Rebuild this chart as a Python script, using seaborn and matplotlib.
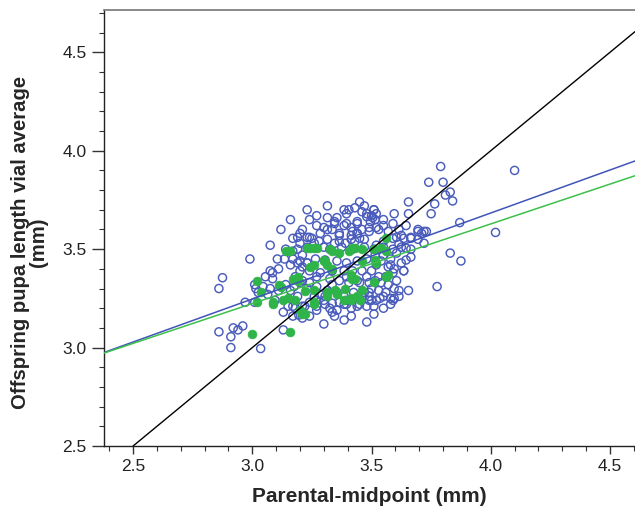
import numpy as np
import pandas as pd
import seaborn as sns
import matplotlib.pyplot as plt
from matplotlib.ticker import MultipleLocator

# open blue circles (all vials)
blue_x = [3.23, 3.12, 3.075, 3.23, 3.17,
          3.45, 3.655, 3.385, 3.48, 3.51, 3.52, 3.505, 3.495, 3.55, 3.595, 3.655, 3.345, 3.395, 3.44, 3.42,
          3.44, 3.46, 3.49, 3.53, 3.57, 3.615, 3.695, 3.25, 3.365, 3.365, 3.415, 3.45, 3.59, 3.665, 3.30,
          3.325, 3.375, 3.42, 3.47, 3.51, 3.55, 3.59, 3.625, 3.665,
          3.79, 4.10, 3.74, 3.80, 3.83, 3.81, 3.84, 3.765, 3.75, 3.87, 3.73, 3.71, 4.02, 3.72, 3.83,
          3.875, 3.775,
          3.695, 3.72, 3.635, 3.665, 3.695, 3.615, 3.645, 3.665, 3.645, 3.635, 3.595, 3.59, 3.56, 3.54, 3.57,
          3.53, 3.56, 3.59,
          3.30, 3.48, 3.345, 3.355, 3.415, 3.305, 3.24, 3.58, 3.615, 3.595, 3.58, 3.655, 3.615, 3.595, 3.55,
          3.535, 3.50, 3.49, 3.635, 3.58, 3.45, 3.385, 3.365, 3.395, 3.27, 3.26, 3.305,
          2.99, 2.875, 2.86, 3.075, 3.085, 3.135, 3.16, 2.97, 2.86, 2.92, 2.91, 2.94, 2.96, 2.91, 3.035,
          3.13, 3.01, 3.045, 3.075, 3.025, 3.01, 3.11, 3.14, 3.175, 3.20, 3.23, 3.13, 3.15, 3.18,
          3.195, 3.21, 3.17, 3.11, 3.20, 3.21, 3.23,
          3.345, 3.385, 3.415, 3.44, 3.48, 3.50, 3.515, 3.44, 3.415, 3.365, 3.335, 3.285, 3.30, 3.26, 3.23,
          3.20, 3.19, 3.17, 3.21, 3.265, 3.305, 3.355, 3.395, 3.44, 3.48, 3.515, 3.52, 3.50, 3.48,
          3.515, 3.44, 3.405, 3.365, 3.325, 3.285, 3.24, 3.20, 3.18, 3.21, 3.27, 3.315, 3.355, 3.425,
          3.46, 3.49, 3.52, 3.48, 3.44, 3.395, 3.335, 3.30, 3.24, 3.19, 3.16, 3.21,
          3.24, 3.27, 3.315, 3.395, 3.43, 3.46, 3.51, 3.52, 3.49, 3.47, 3.43, 3.39, 3.345, 3.315, 3.28,
          3.24, 3.20, 3.17, 3.16,
          3.23, 3.335, 3.385, 3.42, 3.46, 3.19, 3.27, 3.395, 3.45, 3.49, 3.24, 3.335, 3.285, 3.385, 3.49,
          3.51, 3.325, 3.27, 3.17,
          3.55, 3.58, 3.605, 3.625, 3.57, 3.54, 3.52, 3.55, 3.605, 3.625, 3.645, 3.59, 3.55, 3.50, 3.47,
          3.53, 3.605, 3.55, 3.51, 3.415, 3.385, 3.335, 3.27, 3.22, 3.095, 3.065, 3.085, 3.055, 3.015, 3.105,
          3.14, 3.19, 3.21, 3.27, 3.315, 3.355, 3.405, 3.315, 3.47]
blue_y = [3.70, 3.60, 3.52, 3.56, 3.49,
          3.74, 3.74, 3.70, 3.68, 3.70, 3.68, 3.66, 3.64, 3.65, 3.68, 3.68, 3.64, 3.63, 3.64, 3.59,
          3.58, 3.60, 3.61, 3.60, 3.59, 3.60, 3.60, 3.555, 3.57, 3.54, 3.55, 3.555, 3.555, 3.555, 3.51,
          3.50, 3.51, 3.50, 3.51, 3.50, 3.51, 3.50, 3.51, 3.50,
          3.92, 3.90, 3.84, 3.84, 3.79, 3.775, 3.745, 3.73, 3.68, 3.635, 3.59, 3.58, 3.585, 3.53, 3.48,
          3.44, 3.31,
          3.59, 3.59, 3.555, 3.56, 3.55, 3.525, 3.505, 3.46, 3.445, 3.39, 3.40, 3.38, 3.36, 3.33, 3.32,
          3.29, 3.28, 3.24,
          3.12, 3.13, 3.16, 3.19, 3.20, 3.22, 3.16, 3.22, 3.26, 3.25, 3.25, 3.29, 3.29, 3.30, 3.26,
          3.25, 3.24, 3.26, 3.39, 3.42, 3.22, 3.22, 3.23, 3.24, 3.24, 3.26, 3.26,
          3.45, 3.355, 3.30, 3.39, 3.38, 3.45, 3.42, 3.23, 3.08, 3.10, 3.055, 3.09, 3.11, 3.00, 2.995,
          3.09, 3.32, 3.31, 3.30, 3.28, 3.23, 3.29, 3.32, 3.31, 3.33, 3.30, 3.18, 3.21, 3.20,
          3.165, 3.15, 3.16, 3.40, 3.44, 3.41, 3.43,
          3.63, 3.62, 3.61, 3.63, 3.665, 3.67, 3.65, 3.58, 3.57, 3.58, 3.60, 3.58, 3.61, 3.53, 3.51,
          3.53, 3.50, 3.45, 3.47, 3.45, 3.445, 3.44, 3.43, 3.44, 3.45, 3.47, 3.42, 3.39, 3.36,
          3.34, 3.34, 3.33, 3.34, 3.35, 3.38, 3.39, 3.39, 3.36, 3.34, 3.31, 3.29, 3.28, 3.28,
          3.26, 3.28, 3.24, 3.21, 3.21, 3.22, 3.225, 3.24, 3.23, 3.26, 3.29, 3.21,
          3.65, 3.67, 3.66, 3.68, 3.71, 3.69, 3.70, 3.61, 3.59, 3.55, 3.54, 3.53, 3.53, 3.55, 3.54,
          3.56, 3.58, 3.555, 3.65,
          3.43, 3.39, 3.39, 3.39, 3.39, 3.43, 3.36, 3.36, 3.33, 3.33, 3.33, 3.32, 3.27, 3.26, 3.24,
          3.21, 3.20, 3.21, 3.21,
          3.47, 3.45, 3.48, 3.43, 3.41, 3.44, 3.52, 3.54, 3.56, 3.57, 3.62, 3.63, 3.62, 3.30, 3.28,
          3.36, 3.34, 3.20, 3.17, 3.16, 3.14, 3.18, 3.19, 3.21, 3.24, 3.27, 3.35, 3.36, 3.30, 3.45,
          3.50, 3.56, 3.60, 3.62, 3.60, 3.66, 3.70, 3.72, 3.72]

# filled green circles (subset)
green_x = [3.14, 3.23, 3.26, 3.325, 3.42, 3.56,
           3.54, 3.56, 3.515, 3.52, 3.51, 3.56,
           3.415, 3.44, 3.385, 3.355, 3.345, 3.315, 3.26, 3.39, 3.46, 3.57, 3.42, 3.30, 3.335, 3.26,
           3.00, 3.16, 3.02, 3.035, 3.085, 3.085, 3.13, 3.15, 3.11, 3.12, 3.19, 3.19, 3.20, 3.21, 3.22, 3.02,
           3.16, 3.24, 3.27, 3.335, 3.365, 3.405, 3.43, 3.46, 3.51, 3.30, 3.315, 3.24, 3.46, 3.415, 3.43,
           3.17, 3.22, 3.26, 3.315, 3.355, 3.415, 3.45, 3.18, 3.26]
green_y = [3.49, 3.505, 3.505, 3.50, 3.505, 3.555,
           3.505, 3.49, 3.445, 3.43, 3.335, 3.36,
           3.25, 3.26, 3.24, 3.27, 3.29, 3.28, 3.22, 3.30, 3.29, 3.37, 3.35, 3.44, 3.40, 3.42,
           3.07, 3.08, 3.34, 3.28, 3.23, 3.22, 3.24, 3.25, 3.32, 3.31, 3.36, 3.34, 3.19, 3.17, 3.17, 3.23,
           3.49, 3.505, 3.505, 3.49, 3.48, 3.49, 3.505, 3.50, 3.50, 3.445, 3.42, 3.41, 3.44, 3.37, 3.35,
           3.35, 3.285, 3.29, 3.26, 3.27, 3.24, 3.24, 3.24, 3.23]

# identity line and fitted regression lines (end points)
black_x = [2.5, 4.605]
black_y = [2.5, 4.605]
blue_line_x = [2.378, 4.605]
blue_line_y = [2.975, 3.948]
green_line_x = [2.378, 4.605]
green_line_y = [2.972, 3.873]

blue_c = '#4a5cbc'
green_c = '#2fb44a'

sns.set_style('ticks')
plt.rcParams['font.family'] = ['Liberation Sans', 'DejaVu Sans']

fig = plt.figure(figsize=(6.35, 5.17), dpi=100)
ax = fig.add_axes([104 / 635, 71 / 517, 531 / 635, 436 / 517])

sns.scatterplot(x=blue_x, y=blue_y, ax=ax, marker='o', s=34, facecolor='none',
                edgecolor=blue_c, linewidth=1.05, zorder=2)
sns.scatterplot(x=green_x, y=green_y, ax=ax, marker='o', s=40, color=green_c,
                edgecolor=green_c, linewidth=0.5, zorder=3)

sns.lineplot(x=blue_line_x, y=blue_line_y, ax=ax, color='#3f55b8', linewidth=1.1, zorder=4)
sns.lineplot(x=green_line_x, y=green_line_y, ax=ax, color='#3cc04a', linewidth=1.1, zorder=4)
sns.lineplot(x=black_x, y=black_y, ax=ax, color='black', linewidth=1.0, zorder=5)

ax.set_xlim(2.378, 4.605)
ax.set_ylim(2.5, 4.715)
ax.xaxis.set_major_locator(MultipleLocator(0.5))
ax.xaxis.set_minor_locator(MultipleLocator(0.1))
ax.yaxis.set_major_locator(MultipleLocator(0.5))
ax.yaxis.set_minor_locator(MultipleLocator(0.1))
ax.xaxis.set_major_formatter(lambda v, _: f'{v:.1f}')
ax.yaxis.set_major_formatter(lambda v, _: f'{v:.1f}')

ax.tick_params(axis='both', which='major', labelsize=12.5, width=1, color='#333333', labelcolor='#222222')
ax.tick_params(axis='x', which='major', length=6)
ax.tick_params(axis='y', which='major', length=9)
ax.tick_params(axis='both', which='minor', length=3.5, width=0.8, color='#333333')

for side in ['left', 'bottom']:
    ax.spines[side].set_linewidth(1.0)
    ax.spines[side].set_color('#222222')
ax.spines['top'].set_visible(True)
ax.spines['top'].set_color('#777777')
ax.spines['top'].set_linewidth(1.2)
ax.spines['right'].set_visible(False)

ax.set_xlabel('Parental-midpoint (mm)', fontsize=15, fontweight='bold', labelpad=9)
ax.set_ylabel('Offspring pupa length vial average\n(mm)', fontsize=14.6, fontweight='bold',
              linespacing=0.95)
ax.yaxis.set_label_coords(-0.105, 0.468)

fig.savefig('out.png', dpi=100)
